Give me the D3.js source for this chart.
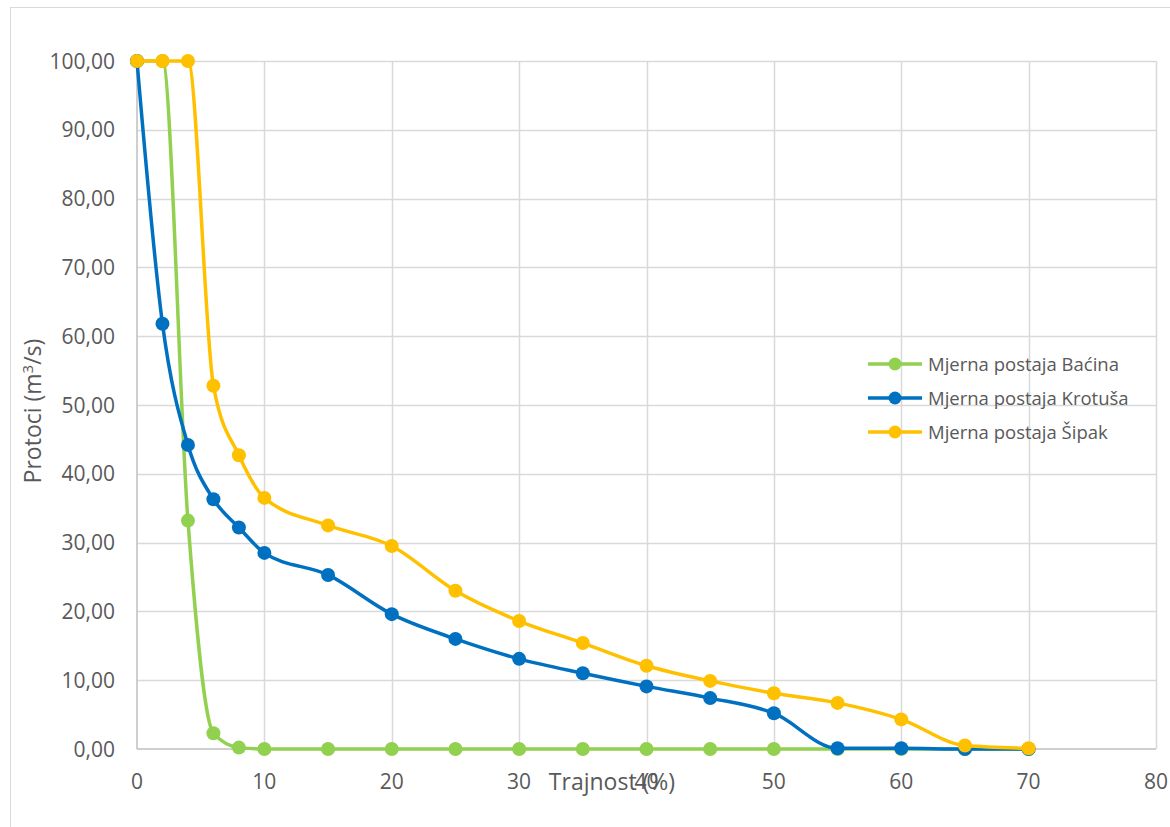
<!DOCTYPE html>
<html><head><meta charset="utf-8">
<script src="https://cdn.jsdelivr.net/npm/d3@7"></script>
<style>body{margin:0;background:#fff;} svg{display:block;font-family:"Open Sans",sans-serif;}</style>
</head><body>
<svg id="c" width="1170" height="827"></svg>
<script>
const xTicks = [0,10,20,30,40,50,60,70,80];
const yTicks = [0,10,20,30,40,50,60,70,80,90,100];
const xBacina = [0,2,4,6,8,10,15,20,25,30,35,40,45,50,55,60,65,70];
const yBacina = [100,100,33.2,2.3,0.2,0,0,0,0,0,0,0,0,0,0,0,0,0];
const xKrotusa = [0,2,4,6,8,10,15,20,25,30,35,40,45,50,55,60,65,70];
const yKrotusa = [100,61.8,44.2,36.3,32.2,28.5,25.3,19.6,16.0,13.1,11.0,9.1,7.4,5.2,0.1,0.1,0,0];
const xSipak = [0,2,4,6,8,10,15,20,25,30,35,40,45,50,55,60,65,70];
const ySipak = [100,100,100,52.8,42.7,36.5,32.5,29.5,23.0,18.6,15.4,12.1,9.9,8.1,6.7,4.3,0.5,0.1];
const seriesNames = ["Mjerna postaja Baćina","Mjerna postaja Krotuša","Mjerna postaja Šipak"];
const seriesColors = ["#92D050","#0070C0","#FFC000"];

const svg = d3.select("#c");
const x = d3.scaleLinear().domain([0,80]).range([137,1156]);
const y = d3.scaleLinear().domain([0,100]).range([749,61]);
const grid = "#d9d9d9", txt = "#595959";

svg.append("rect").attr("x",10.5).attr("y",7.5).attr("width",1200).attr("height",900)
  .attr("fill","none").attr("stroke",grid);

// gridlines
svg.append("g").selectAll("line").data(yTicks.filter(d=>d>0)).join("line")
  .attr("x1",x(0)).attr("x2",x(80)).attr("y1",d=>Math.round(y(d))+0.5).attr("y2",d=>Math.round(y(d))+0.5)
  .attr("stroke",grid).attr("stroke-width",1.5);
svg.append("g").selectAll("line").data(xTicks.filter(d=>d>0)).join("line")
  .attr("y1",y(0)).attr("y2",y(100)).attr("x1",d=>Math.round(x(d))+0.5).attr("x2",d=>Math.round(x(d))+0.5)
  .attr("stroke",grid).attr("stroke-width",1.5);
// axes lines
svg.append("line").attr("x1",x(0)).attr("x2",x(80)).attr("y1",y(0)).attr("y2",y(0)).attr("stroke","#bfbfbf").attr("stroke-width",1.5);
svg.append("line").attr("x1",x(0)).attr("x2",x(0)).attr("y1",y(0)).attr("y2",y(100)).attr("stroke","#bfbfbf").attr("stroke-width",1.5);

const fmt = d => d3.format(".2f")(d).replace(".",",");
svg.append("g").selectAll("text").data(yTicks).join("text")
  .attr("x",115).attr("y",d=>y(d)).attr("dy","0.36em").attr("text-anchor","end")
  .attr("font-size",21).attr("fill",txt).text(fmt);
svg.append("g").selectAll("text").data(xTicks).join("text")
  .attr("x",d=>x(d)).attr("y",789).attr("text-anchor","middle")
  .attr("font-size",21).attr("fill",txt).text(d=>d);

svg.append("text").attr("x",612).attr("y",790).attr("text-anchor","middle")
  .attr("font-size",23).attr("fill",txt).text("Trajnost (%)");
const yl = svg.append("text").attr("transform","translate(41,411) rotate(-90)").attr("text-anchor","middle")
  .attr("font-size",23).attr("fill",txt);
yl.append("tspan").text("Protoci (m");
yl.append("tspan").attr("dy",-8).attr("font-size",15).text("3");
yl.append("tspan").attr("dy",8).text("/s)");

const data = [
  xBacina.map((v,i)=>[v,yBacina[i]]),
  xKrotusa.map((v,i)=>[v,yKrotusa[i]]),
  xSipak.map((v,i)=>[v,ySipak[i]])
];
const line = d3.line().x(d=>x(d[0])).y(d=>y(d[1])).curve(d3.curveMonotoneX);
data.forEach((s,i)=>{
  const g = svg.append("g");
  g.append("path").attr("d",line(s)).attr("fill","none").attr("stroke",seriesColors[i])
    .attr("stroke-width",3.5).attr("stroke-linejoin","round");
  g.selectAll("circle").data(s).join("circle").attr("cx",d=>x(d[0])).attr("cy",d=>y(d[1]))
    .attr("r",7).attr("fill",seriesColors[i]);
});

// legend
const lg = svg.append("g");
seriesNames.forEach((n,i)=>{
  const yy = 364 + i*34;
  lg.append("line").attr("x1",868).attr("x2",922).attr("y1",yy).attr("y2",yy)
    .attr("stroke",seriesColors[i]).attr("stroke-width",3.5);
  lg.append("circle").attr("cx",895).attr("cy",yy).attr("r",6.5).attr("fill",seriesColors[i]);
  lg.append("text").attr("x",928).attr("y",yy).attr("dy","0.36em").attr("font-size",18.5)
    .attr("fill",txt).text(n);
});
</script>
</body></html>
